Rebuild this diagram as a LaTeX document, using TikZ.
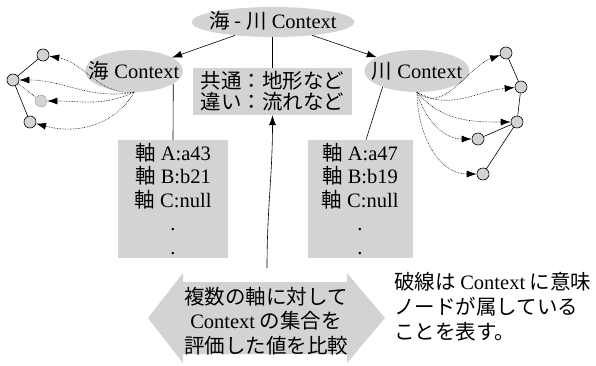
\documentclass[tikz,border=0pt]{standalone}
\usepackage{fontspec}
\setmainfont{Liberation Serif}
\newfontfamily\jp{Noto Sans CJK JP}
\usetikzlibrary{arrows.meta,shapes.geometric,calc}
\definecolor{boxgray}{RGB}{211,211,211}
\newcommand{\ctrtxt}[1]{\smash{\raisebox{-7pt}{\makebox[0pt]{#1}}}}
\begin{document}
\begin{tikzpicture}[x=1pt,y=1pt,
  every node/.style={font=\fontsize{20.5}{24}\selectfont},
  ctx/.style={ellipse, fill=boxgray, inner sep=0pt},
  gbox/.style={rectangle, fill=boxgray, inner sep=0pt, align=center},
  vert/.style={circle, draw=black, fill=boxgray, line width=0.6pt, minimum size=12pt, inner sep=0pt},
  link/.style={line width=0.6pt},
  arr/.style={line width=0.6pt, -{Latex[length=10pt,width=7pt]}},
  dotarr/.style={densely dotted, line width=0.6pt, -{Latex[length=10pt,width=7pt]}}]
\useasboundingbox (0,0) rectangle (596,365);

% context ellipses
\node[ctx, minimum width=163pt, minimum height=30pt] (top) at (273,343) {\ctrtxt{{\jp 海 - 川} Context}};
\node[ctx, minimum width=98pt, minimum height=42pt] (left) at (134,294) {\ctrtxt{{\jp 海} Context}};
\node[ctx, minimum width=105pt, minimum height=42pt] (right) at (417,294) {\ctrtxt{{\jp 川} Context}};

% boxes
\node[gbox, minimum width=159pt, minimum height=47pt, font=\jp\fontsize{20.5}{21}\selectfont] (mid) at (272.5,273.5) {共通：地形など\\違い：流れなど};
\node[gbox, minimum width=110pt, minimum height=118pt, font=\fontsize{20.5}{23.5}\selectfont] (lbox) at (173,166) {{\jp 軸} A:a43\\{\jp 軸} B:b21\\{\jp 軸} C:null\\.\\.};
\node[gbox, minimum width=105pt, minimum height=118pt, font=\fontsize{20.5}{23.5}\selectfont] (rbox) at (360,166) {{\jp 軸} A:a47\\{\jp 軸} B:b19\\{\jp 軸} C:null\\.\\.};

% double arrow
\fill[boxgray] (148,47) -- (183,92) -- (183,83) -- (347,83) -- (347,92) -- (385,47)
  -- (347,2) -- (347,11) -- (183,11) -- (183,2) -- cycle;
\node[align=center, font=\jp\fontsize{20.5}{24.5}\selectfont] (cmp) at (266,44) {複数の軸に対して\\{\rmfamily Context} の集合を\\評価した値を比較};
\coordinate (cmpTop) at (267,97);

% note
\node[anchor=north west, align=left, inner sep=0pt, font=\jp\fontsize{20.5}{25}\selectfont] (note) at (394,93) {破線は {\rmfamily Context} に意味\\ノードが属している\\ことを表す。};

% connectors
\draw[arr] (top) -- (left);
\draw[arr] (top) -- (right);
\draw[link] (top.south -| mid.north) -- (mid.north);
\draw[link] (left.-18) -- (lbox.north);
\draw[link] (right.-155) -- ([xshift=6pt]rbox.north);
\draw[arr] (cmpTop) to[out=90,in=-90] (mid.south);

% left cluster
\node[vert] (n1) at (43,310) {};
\node[vert] (n2) at (13,285) {};
\node[vert, draw=gray, densely dotted] (n3) at (41,264) {};
\node[vert] (n4) at (30,243) {};
\draw[link] (n1) -- (n2);
\draw[link] (n2) -- (n4);
\draw[densely dotted, line width=0.6pt] (n2) -- (n3);
\draw[dotarr] (left.south) to[out=185,in=-10] (n1);
\draw[dotarr] (left.south) to[out=190,in=0] (n2);
\draw[dotarr] (left.south) to[out=205,in=0] (n3);
\draw[dotarr] (left.south) to[out=240,in=-15] (n4);

% right cluster
\node[vert] (r1) at (506,312) {};
\node[vert] (r2) at (521,278) {};
\node[vert] (r3) at (517,243) {};
\node[vert] (r4) at (478,226) {};
\node[vert] (r5) at (483,191) {};
\draw[link] (r1) -- (r2);
\draw[link] (r2) -- (r3);
\draw[link] (r3) -- (r4);
\draw[link] (r3) -- (r5);
\draw[dotarr] (right.south) to[out=-40,in=200] (r1);
\draw[dotarr] (right.south) to[out=-30,in=185] (r2);
\draw[dotarr] (right.south) to[out=-50,in=180] (r3);
\draw[dotarr] (right.south) to[out=-75,in=180] (r4);
\draw[dotarr] (right.south) to[out=-90,in=180] (r5);
\end{tikzpicture}
\end{document}
